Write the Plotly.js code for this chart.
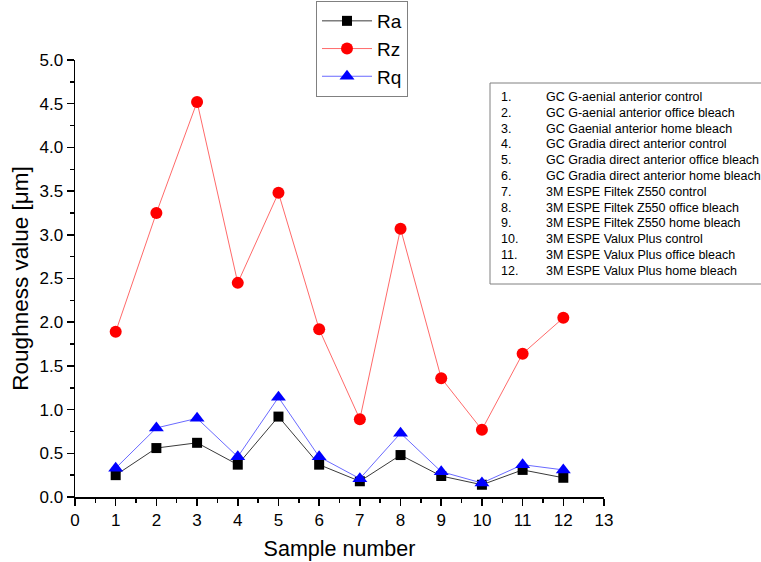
<!DOCTYPE html>
<html>
<head>
<meta charset="utf-8">
<script src="https://cdn.plot.ly/plotly-3.0.1.min.js"></script>
<style>html,body{margin:0;padding:0;background:#fff;}#chart{width:761px;height:562px;}</style>
</head>
<body>
<div id="chart"></div>
<script>
var samples = [1,2,3,4,5,6,7,8,9,10,11,12];
var ra = [0.25,0.56,0.62,0.37,0.92,0.37,0.18,0.48,0.24,0.14,0.31,0.22];
var rz = [1.89,3.25,4.52,2.45,3.48,1.92,0.89,3.07,1.36,0.77,1.64,2.05];
var rq = [0.33,0.79,0.90,0.46,1.14,0.46,0.21,0.73,0.29,0.16,0.37,0.31];
var sampleNames = [
  "GC G-aenial anterior control",
  "GC G-aenial anterior office bleach",
  "GC Gaenial anterior home bleach",
  "GC Gradia direct anterior control",
  "GC Gradia direct anterior office bleach",
  "GC Gradia direct anterior home bleach",
  "3M ESPE Filtek Z550 control",
  "3M ESPE Filtek Z550 office bleach",
  "3M ESPE Filtek Z550 home bleach",
  "3M ESPE Valux Plus control",
  "3M ESPE Valux Plus office bleach",
  "3M ESPE Valux Plus home bleach"
];

var M = {l:75, r:157, t:60, b:65};
var W = 761, H = 562;
var pw = W - M.l - M.r, ph = H - M.t - M.b;
function px2x(p){ return (p - M.l)/pw; }
function px2y(p){ return (H - M.b - p)/ph; }

var FONT = "Liberation Sans, Arial, sans-serif";

var traces = [
  {x: samples, y: ra, name: "Ra", mode: "lines+markers", cliponaxis: false,
   line: {color: "#3a3a3a", width: 1},
   marker: {symbol: "square", size: 10, color: "#000000"}},
  {x: samples, y: rz, name: "Rz", mode: "lines+markers", cliponaxis: false,
   line: {color: "#ff6a6a", width: 1},
   marker: {symbol: "circle", size: 12, color: "#ff0000"}},
  {x: samples, y: rq, name: "Rq", mode: "lines+markers", cliponaxis: false,
   line: {color: "#6a6aff", width: 1},
   marker: {symbol: "triangle-up", size: 13, color: "#0000ff"}}
];

var annotations = [];
var shapes = [{
  type: "rect", xref: "paper", yref: "paper",
  x0: px2x(490), x1: px2x(800), y0: px2y(284), y1: px2y(83),
  line: {color: "#808080", width: 1}, fillcolor: "rgba(0,0,0,0)"
}];
for (var i = 0; i < sampleNames.length; i++) {
  var yp = px2y(97 + i * 15.8);
  annotations.push({xref: "paper", yref: "paper", x: px2x(499), y: yp,
    xanchor: "left", yanchor: "middle", showarrow: false,
    text: samples[i] + ".", font: {family: FONT, size: 12.5, color: "#000"}});
  annotations.push({xref: "paper", yref: "paper", x: px2x(544), y: yp,
    xanchor: "left", yanchor: "middle", showarrow: false,
    text: sampleNames[i], font: {family: FONT, size: 12.5, color: "#000"}});
}

var layout = {
  width: W, height: H,
  margin: {l: M.l, r: M.r, t: M.t, b: M.b, autoexpand: false},
  paper_bgcolor: "#fff", plot_bgcolor: "#fff",
  font: {family: FONT, color: "#000"},
  showlegend: true,
  legend: {x: px2x(316), y: px2y(97), xanchor: "left", yanchor: "bottom",
    bordercolor: "#808080", borderwidth: 1, bgcolor: "#fff",
    font: {family: FONT, size: 19, color: "#000"}, itemwidth: 50, tracegroupgap: 0},
  xaxis: {range: [0, 13], dtick: 1, tick0: 0, showgrid: false, zeroline: false,
    showline: true, linecolor: "#000", linewidth: 1.5,
    ticks: "outside", ticklen: 7, tickwidth: 1.5, tickcolor: "#000",
    minor: {dtick: 0.5, ticks: "outside", ticklen: 4, tickwidth: 1.5, tickcolor: "#000"},
    tickfont: {family: FONT, size: 17},
    title: {text: "Sample number", font: {family: FONT, size: 21.5}, standoff: 12}},
  yaxis: {range: [0, 5], dtick: 0.5, tick0: 0, tickformat: ".1f", showgrid: false, zeroline: false,
    showline: true, linecolor: "#000", linewidth: 1.5,
    ticks: "outside", ticklen: 7, tickwidth: 1.5, tickcolor: "#000",
    minor: {dtick: 0.25, ticks: "outside", ticklen: 4, tickwidth: 1.5, tickcolor: "#000"},
    tickfont: {family: FONT, size: 17},
    title: {text: "Roughness value [\u03bcm]", font: {family: FONT, size: 22.5}, standoff: 4}},
  shapes: shapes,
  annotations: annotations
};

Plotly.newPlot("chart", traces, layout, {displayModeBar: false, staticPlot: true});
</script>
</body>
</html>
